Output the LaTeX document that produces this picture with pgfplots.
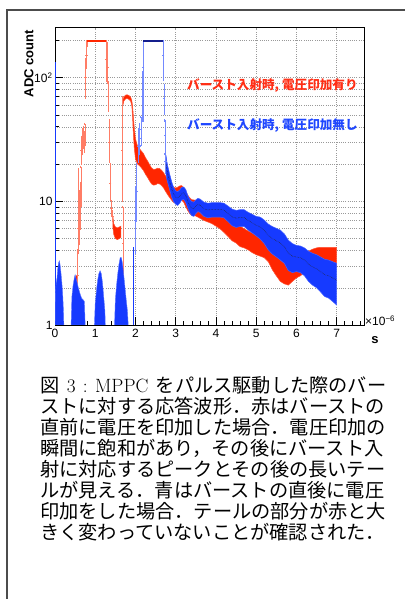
\documentclass[border=0pt]{standalone}
\usepackage{fontspec}
\usepackage{pgfplots}
\pgfplotsset{compat=1.18}
\usepgfplotslibrary{fillbetween}
\usepackage{pgfplotstable}

\newfontfamily\arial{Liberation Sans}
\newfontfamily\jp{Noto Sans CJK JP}

\definecolor{rootred}{RGB}{255,38,0}
\definecolor{rootblue}{RGB}{22,58,255}
\definecolor{satblue}{RGB}{20,30,140}
\definecolor{txtred}{RGB}{255,45,20}
\definecolor{txtblue}{RGB}{30,70,255}

% tail of the red waveform: value and error
\pgfplotstableread{
x y e
1.69 63 3
1.71 67 2.5
1.74 69 2.5
1.77 70 2.5
1.80 70 2.5
1.84 69 2.5
1.88 67 2.5
1.91 62 3
1.93 52 6
1.95 41 7
1.97 33 6
2.00 27 5
2.05 24 4
2.10 23 3.6
2.15 22 3.4
2.20 21 3.3
2.25 19.5 3.0
2.30 18.4 2.8
2.35 17.2 2.6
2.40 16.2 2.4
2.45 15.8 2.3
2.50 15.9 2.3
2.55 16.2 2.3
2.60 16.1 2.3
2.65 15.6 2.2
2.70 14.9 2.1
2.75 14.0 2.0
2.80 13.2 1.9
2.85 12.5 1.8
2.90 11.9 1.7
2.95 11.4 1.6
3.00 11.2 1.6
3.05 11.4 1.6
3.10 11.7 1.6
3.15 11.8 1.6
3.20 11.3 1.5
3.25 10.5 1.45
3.30 9.8 1.4
3.35 9.3 1.35
3.40 9.0 1.3
3.50 8.9 1.3
3.60 8.6 1.3
3.70 8.3 1.3
3.80 8.1 1.3
3.90 7.9 1.3
4.00 7.6 1.3
4.10 7.2 1.2
4.20 6.8 1.2
4.30 6.3 1.1
4.40 5.9 1.1
4.50 5.6 1.0
4.60 5.3 1.0
4.70 5.1 0.9
4.80 4.9 0.85
4.90 4.7 0.85
5.00 4.5 0.8
5.10 4.4 0.8
5.20 4.3 0.8
5.30 4.0 0.75
5.40 3.5 0.7
5.50 3.1 0.6
5.60 2.8 0.55
5.70 2.65 0.5
5.80 2.6 0.5
5.90 2.75 0.5
6.00 2.95 0.55
6.10 3.1 0.6
6.20 3.25 0.6
6.30 3.35 0.6
6.40 3.45 0.65
6.50 3.55 0.65
6.60 3.6 0.65
6.70 3.6 0.65
6.80 3.6 0.65
6.90 3.6 0.65
7.00 3.6 0.65
}\redtail

% red plateau after the first saturation
\pgfplotstableread{
x y e
1.44 6.8 0.7
1.46 6.0 0.6
1.50 5.6 0.6
1.55 5.5 0.6
1.60 5.6 0.6
1.64 5.7 0.6
}\redflat

% red bins with large errors (value, +err, -err)
\pgfplotstableread{
x y ep em
0.56 2.5 1.5 1.5
0.58 6 12 2.2
0.60 8 4 3.5
0.62 10 4 4
0.64 14 5 5
0.66 26 7 6
0.68 30 8 6
0.70 32 8 5
0.72 30 6 5
0.74 35 7 7
0.76 100 40 31
0.78 150 47 30
0.80 190 7 10
1.28 140 57 46
1.30 120 70 30
1.32 70 22 16
1.34 30 15 9
1.37 14 6 3.8
1.40 8.7 1.3 1.1
1.43 7.5 0.8 0.6
1.665 26 43 16
1.685 4.6 4.4 2.3
}\rederr

% tail of the blue waveform: value and error
\pgfplotstableread{
x y e
2.76 20 3.5
2.78 18 3.0
2.80 16.8 2.6
2.85 14.5 2.1
2.90 12.6 1.8
2.95 11.4 1.5
3.00 10.8 1.35
3.05 10.6 1.35
3.10 11.0 1.35
3.15 11.6 1.35
3.20 11.7 1.35
3.25 11.1 1.35
3.30 10.0 1.15
3.35 9.2 1.15
3.40 8.8 1.15
3.45 8.7 1.15
3.50 9.1 1.15
3.55 9.4 1.15
3.60 9.3 1.15
3.65 9.0 1.15
3.70 8.7 1.15
3.80 8.5 1.15
3.90 8.6 1.15
4.00 8.6 1.15
4.10 8.6 1.15
4.20 8.5 1.15
4.30 8.0 1.15
4.40 7.5 1.15
4.50 7.3 1.15
4.60 7.4 1.15
4.70 7.4 1.15
4.80 7.0 1.15
4.90 6.7 1.15
5.00 6.4 1.15
5.10 6.2 1.25
5.20 5.8 1.25
5.30 5.3 1.25
5.40 5.0 1.25
5.50 4.8 1.25
5.60 4.6 1.25
5.70 4.3 1.15
5.80 3.8 1.05
5.90 3.6 0.95
6.00 3.55 0.85
6.10 3.5 0.85
6.20 3.35 0.85
6.30 3.1 0.85
6.40 2.95 0.85
6.50 2.85 0.85
6.60 2.7 0.85
6.70 2.55 0.85
6.80 2.5 0.85
6.90 2.4 0.85
7.00 2.3 0.85
}\bluetail

% blue bins with large errors (value, +err, -err)
\pgfplotstableread{
x y ep em
2.00 7 6 3.2
2.03 12 8 5
2.07 28 10 7
2.10 32 10 8
2.13 38 10 10
2.16 70 40 25
2.19 120 70 75
2.69 150 47 54
2.71 68 19 17
2.73 34 11 10
2.75 21 4 4
}\blueerr

% blue pedestal bumps before the burst (upper edge)
\pgfplotstableread{
x y
0.00 1.0
0.01 1.8
0.03 2.2
0.05 2.4
0.07 2.9
0.09 3.2
0.11 3.3
0.13 3.0
0.15 2.6
0.17 2.2
0.19 1.8
0.21 1.3
0.22 1.0
}\bumpA
\pgfplotstableread{
x y
0.40 1.0
0.42 1.7
0.45 2.1
0.48 2.4
0.50 2.55
0.52 2.4
0.55 2.2
0.58 2.0
0.62 1.8
0.66 1.65
0.70 1.6
0.73 1.55
0.75 1.0
}\bumpB
\pgfplotstableread{
x y
0.98 1.0
1.00 1.5
1.03 1.9
1.06 2.3
1.09 2.6
1.12 2.75
1.15 2.6
1.18 2.2
1.21 1.7
1.24 1.3
1.25 1.0
}\bumpC
\pgfplotstableread{
x y
1.48 1.0
1.50 1.6
1.53 2.1
1.56 2.6
1.59 3.1
1.62 3.5
1.65 3.5
1.68 3.1
1.71 2.5
1.74 2.0
1.77 1.6
1.80 1.3
1.82 1.0
}\bumpD

\begin{document}
\begin{tikzpicture}
% page frame
\draw[line width=1.4pt, black!70] (7pt,0pt) -- (7pt,589pt) -- (405pt,589pt);

\begin{axis}[
  at={(55pt,274pt)}, anchor=south west,
  scale only axis, width=309pt, height=297.3pt,
  ymode=log, xmin=0, xmax=7.68, ymin=1, ymax=253,
  xtick={0,1,2,3,4,5,6,7}, xticklabels={0,1,2,3,4,5,6,7},
  minor xtick={0.2,0.4,0.6,0.8,1.2,1.4,1.6,1.8,2.2,2.4,2.6,2.8,3.2,3.4,3.6,3.8,4.2,4.4,4.6,4.8,5.2,5.4,5.6,5.8,6.2,6.4,6.6,6.8,7.2,7.4,7.6},
  ytick={1,10,100}, yticklabels={1,10,10\textsuperscript{2}},
  minor ytick={2,3,4,5,6,7,8,9,20,30,40,50,60,70,80,90,200},
  xtick pos=left, ytick pos=left, tick align=inside,
  major tick length=8pt, minor tick length=4pt,
  tick style={black, line width=0.6pt},
  axis line style={black, line width=0.8pt},
  xmajorgrids=true, ymajorgrids=true, yminorgrids=true, xminorgrids=false,
  major grid style={gray!80, line width=0.5pt, dash pattern=on 0.8pt off 1.4pt},
  minor grid style={gray!80, line width=0.5pt, dash pattern=on 0.8pt off 1.4pt},
  tick label style={font=\arial\fontsize{12}{12}\selectfont, text=black},
  xticklabel style={yshift=-1pt},
  yticklabel style={xshift=1pt},
]
% red: rising edge, first saturation, plateau, second peak and tail
\addplot[rootred, line width=1pt] coordinates {(0.54,0.9) (0.54,2.5)};
\addplot[rootred!60, line width=0.8pt, only marks, mark=-, mark size=1.2pt,
  error bars/.cd, y dir=both, y explicit, error mark=-,
  error mark options={rootred!60, mark size=1.2pt, line width=0.8pt}]
  table[x=x, y=y, y error plus=ep, y error minus=em] \rederr;
\addplot[rootred, line width=2.4pt] coordinates {(0.80,197) (1.27,197)};
\addplot[name path=fU, draw=none] table[x=x, y expr=\thisrow{y}+\thisrow{e}] \redflat;
\addplot[name path=fL, draw=none] table[x=x, y expr=\thisrow{y}-\thisrow{e}] \redflat;
\addplot[fill=rootred, draw=rootred!80, line width=0.5pt] fill between[of=fU and fL];
\addplot[name path=rU, draw=none] table[x=x, y expr=\thisrow{y}+\thisrow{e}] \redtail;
\addplot[name path=rL, draw=none] table[x=x, y expr=\thisrow{y}-\thisrow{e}] \redtail;
\addplot[fill=rootred, draw=rootred!80, line width=0.5pt] fill between[of=rU and rL];

% blue: pedestal bumps, rising edge, saturation and tail
\addplot[rootblue, line width=1.6pt] coordinates {(0.004,0.9) (0.004,134)};
\addplot[fill=rootblue, draw=rootblue!70, line width=0.4pt] table[x=x,y=y] \bumpA \closedcycle;
\addplot[fill=rootblue, draw=rootblue!70, line width=0.4pt] table[x=x,y=y] \bumpB \closedcycle;
\addplot[fill=rootblue, draw=rootblue!70, line width=0.4pt] table[x=x,y=y] \bumpC \closedcycle;
\addplot[fill=rootblue, draw=rootblue!70, line width=0.4pt] table[x=x,y=y] \bumpD \closedcycle;
\addplot[rootblue, line width=1pt] coordinates {(1.95,0.9) (1.95,4.3)};
\addplot[rootblue!60, line width=0.8pt, only marks, mark=-, mark size=1.2pt,
  error bars/.cd, y dir=both, y explicit, error mark=-,
  error mark options={rootblue!60, mark size=1.2pt, line width=0.8pt}]
  table[x=x, y=y, y error plus=ep, y error minus=em] \blueerr;
\addplot[satblue, line width=2.4pt] coordinates {(2.19,197) (2.68,197)};
\addplot[name path=bU, draw=none] table[x=x, y expr=\thisrow{y}+\thisrow{e}] \bluetail;
\addplot[name path=bL, draw=none] table[x=x, y expr=\thisrow{y}-\thisrow{e}] \bluetail;
\addplot[fill=rootblue, draw=rootblue!80, line width=0.5pt] fill between[of=bU and bL];
\addplot[black!85, line width=0.5pt, densely dotted] table[x=x, y=y] \bluetail;

% annotations
\node[anchor=west, inner sep=0pt, text=txtred, font=\jp\bfseries\fontsize{12.6}{13}\selectfont]
  at (axis cs:3.28,86) {バースト入射時, 電圧印加有り};
\node[anchor=west, inner sep=0pt, text=txtblue, font=\jp\bfseries\fontsize{12.6}{13}\selectfont]
  at (axis cs:3.28,41) {バースト入射時, 電圧印加無し};
\end{axis}

% axis titles
\node[rotate=90, inner sep=0pt, font=\arial\bfseries\fontsize{13}{13}\selectfont] at (29pt,535.5pt) {ADC count};
\node[anchor=west, inner sep=0pt, font=\arial\fontsize{12}{12}\selectfont] at (365pt,278pt) {×10\textsuperscript{−6}};
\node[inner sep=0pt, font=\arial\bfseries\fontsize{13}{13}\selectfont] at (375pt,259pt) {s};

% caption
\begin{scope}[every node/.style={anchor=base west, inner sep=0pt, font=\fontsize{19.2}{21}\selectfont}]
\node at (40pt,206.7pt) {\makebox[346pt][s]{{\jp 図}\ 3\ :\ MPPC\ {\jp をパルス駆動した際のバー}}};
\node at (40pt,185.7pt) {\jp ストに対する応答波形．赤はバーストの};
\node at (40pt,164.7pt) {\jp 直前に電圧を印加した場合．電圧印加の};
\node at (40pt,143.7pt) {\jp 瞬間に飽和があり，その後にバースト入};
\node at (40pt,122.7pt) {\jp 射に対応するピークとその後の長いテー};
\node at (40pt,101.7pt) {\jp ルが見える．青はバーストの直後に電圧};
\node at (40pt,80.7pt) {\jp 印加をした場合．テールの部分が赤と大};
\node at (40pt,59.7pt) {\jp きく変わっていないことが確認された．};
\end{scope}

% page size
\pgfresetboundingbox
\path[use as bounding box] (0pt,0pt) rectangle (405pt,599pt);
\end{tikzpicture}
\end{document}
